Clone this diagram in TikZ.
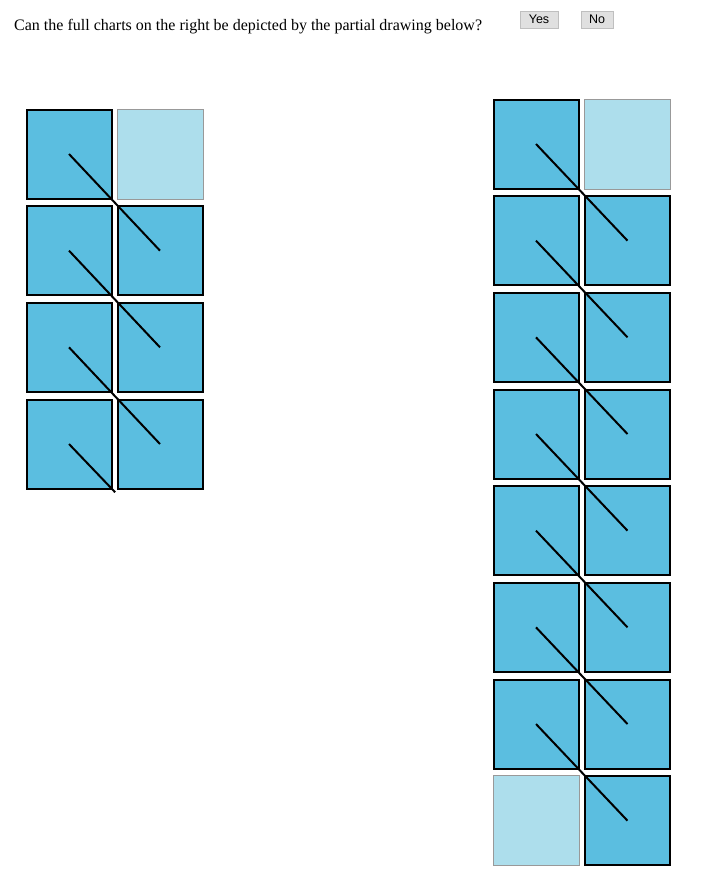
\documentclass[tikz,border=0pt]{standalone}
\usepackage{fontspec}
\setmainfont{Liberation Serif}
\newfontfamily\btnfont{Liberation Sans}
\usetikzlibrary{calc}
\definecolor{cellblue}{RGB}{91,190,224}
\definecolor{paleblue}{RGB}{173,222,236}
\tikzset{
  cell/.style={draw=black, fill=cellblue, line width=2pt, minimum width=85pt,
    minimum height=89pt, inner sep=0pt},
  pale/.style={draw=black!40, fill=paleblue, line width=1pt, minimum width=86pt,
    minimum height=90pt, inner sep=0pt},
  slash/.style={draw=black, line width=2pt},
  btn/.style={draw=black!25, fill=black!12, line width=1pt, inner sep=0pt,
    minimum height=17pt, font=\btnfont\fontsize{12.5}{14}\selectfont},
}

\begin{document}
\begin{tikzpicture}[x=1pt, y=-1pt]
 \useasboundingbox (0,0) rectangle (721,889);
 \node[anchor=base west, inner sep=0pt, font=\fontsize{16}{19}\selectfont] (ask) at (14,30)
   {Can the full charts on the right be depicted by the partial drawing below?};
 \node[btn, minimum width=38pt] (yes) at (539,19.5) {Yes};
 \node[btn, minimum width=32pt] (no) at (597,19.5) {No};
 % partial drawing
 \foreach \r/\st in {1/pale,2/cell,3/cell,4/cell}{
   \node[cell] (pL\r) at (69,{154+96.67*(\r-1)}) {};
   \node[\st] (pR\r) at (160,{154+96.67*(\r-1)}) {};
 }
 \foreach \r in {1,2,3}{
   \pgfmathtruncatemacro\n{\r+1}
   \draw[slash] (pL\r.center) -- (pR\n.center);
 }
 \draw[slash] (pL4.center) -- ($(pL4.center)!1.06!(pL4.south east)$);
 % full charts
 \foreach \r/\sl/\sr in {1/cell/pale,2/cell/cell,3/cell/cell,4/cell/cell,
                         5/cell/cell,6/cell/cell,7/cell/cell,8/pale/cell}{
   \node[\sl] (fL\r) at (536,{144+96.67*(\r-1)}) {};
   \node[\sr] (fR\r) at (627.5,{144+96.67*(\r-1)}) {};
 }
 \foreach \r in {1,...,7}{
   \pgfmathtruncatemacro\n{\r+1}
   \draw[slash] (fL\r.center) -- (fR\n.center);
 }
\end{tikzpicture}
\end{document}
